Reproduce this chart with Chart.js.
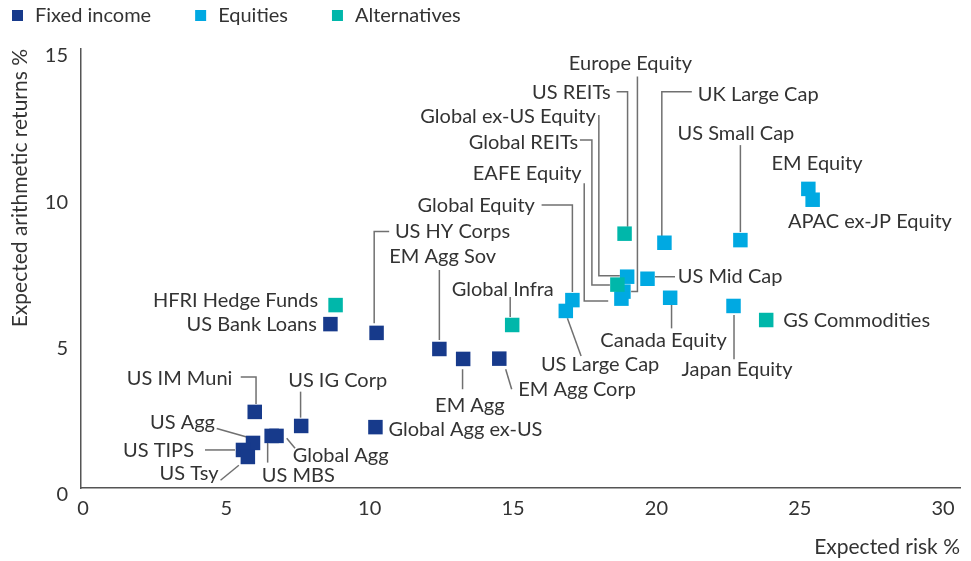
<!DOCTYPE html>
<html lang="en">
<head>
<meta charset="UTF-8">
<title>Expected risk and return</title>
<style>
  html, body { margin: 0; padding: 0; background: #ffffff; }
  #wrap { width: 971px; height: 561px; }
</style>
</head>
<body>
<div id="wrap"><canvas id="chart" width="971" height="561"></canvas></div>
<script src="https://cdn.jsdelivr.net/npm/chart.js"></script>
<script>
// ---- data ----
const fixedNames  = ['US Agg', 'US MBS', 'Global Agg', 'US TIPS', 'US Tsy', 'US IM Muni', 'US IG Corp',
                     'Global Agg ex-US', 'US Bank Loans', 'US HY Corps', 'EM Agg Sov', 'EM Agg', 'EM Agg Corp'];
const fixedRisk   = [6.00, 6.65, 6.82, 5.65, 5.82, 6.06, 7.68, 10.27, 8.70, 10.31, 12.50, 13.33, 14.59];
const fixedReturn = [1.54, 1.78, 1.78, 1.30, 1.06, 2.60, 2.12, 2.08, 5.60, 5.30, 4.75, 4.41, 4.42];

const equityNames  = ['Global Equity', 'US Large Cap', 'Europe Equity', 'EAFE Equity', 'Global ex-US Equity',
                      'US Mid Cap', 'Canada Equity', 'UK Large Cap', 'US Small Cap', 'Japan Equity',
                      'EM Equity', 'APAC ex-JP Equity'];
const equityRisk   = [17.14, 16.91, 18.92, 18.85, 19.05, 19.76, 20.55, 20.35, 23.00, 22.76, 25.37, 25.52];
const equityReturn = [6.42, 6.05, 6.71, 6.47, 7.22, 7.15, 6.50, 8.38, 8.47, 6.22, 10.22, 9.85];

const altNames  = ['HFRI Hedge Funds', 'Global Infra', 'Global REITs', 'US REITs', 'GS Commodities'];
const altRisk   = [8.88, 15.04, 18.71, 18.96, 23.90];
const altReturn = [6.25, 5.57, 6.95, 8.69, 5.74];

const xTicks = [0, 5, 10, 15, 20, 25, 30];
const yTicks = [0, 5, 10, 15];

// ---- label placement: pixel offsets from the marker centre ----
// a = text align, dx/dy = text anchor, leader = polyline
const labelLayout = {
  'HFRI Hedge Funds':   { a: 'right', dx: -17.5, dy: -5 },
  'US Bank Loans':      { a: 'right', dx: -13.5, dy: 0 },
  'US HY Corps':        { a: 'left', dx: 18.3, dy: -101.3, leader: [[12.6, -101.3], [-2.4, -101.3], [-2.4, -9.7]] },
  'EM Agg Sov':         { a: 'center', dx: 3.3, dy: -92.3, leader: [[0, -79], [0, -9]] },
  'Global Infra':       { a: 'center', dx: -9.5, dy: -35, leader: [[-2, -28], [-2, -8]] },
  'Global Equity':      { a: 'right', dx: -37.5, dy: -95, leader: [[-30.8, -95], [0, -95], [0, -8]] },
  'EAFE Equity':        { a: 'right', dx: -39.8, dy: -124.7, leader: [[-37.2, -115.4], [-37.2, 2.3], [-13.2, 2.3]] },
  'Global REITs':       { a: 'right', dx: -39.2, dy: -142, leader: [[-37.5, -144.7], [-25.5, -144.7], [-25.5, 0.3], [-7.5, 0.3]] },
  'Global ex-US Equity':{ a: 'right', dx: -31.3, dy: -160, leader: [[-28.3, -161.7], [-28.3, -1], [-7.3, -1]] },
  'US REITs':           { a: 'right', dx: -14, dy: -141, leader: [[-8, -142], [3, -142], [3, -7]] },
  'Europe Equity':      { a: 'center', dx: 7, dy: -227.7, leader: [[14, -215], [14, 0], [7.7, 0]] },
  'UK Large Cap':       { a: 'left', dx: 33.4, dy: -147.7, leader: [[27.4, -151], [-2.6, -151], [-2.6, -6]] },
  'US Small Cap':       { a: 'center', dx: -4.5, dy: -106.7, leader: [[0, -95], [0, -8]] },
  'EM Equity':          { a: 'center', dx: 8.7, dy: -25 },
  'APAC ex-JP Equity':  { a: 'center', dx: 57.3, dy: 21.9 },
  'US Mid Cap':         { a: 'left', dx: 30.2, dy: -2, leader: [[27.5, -2], [7.5, -2]] },
  'Canada Equity':      { a: 'center', dx: -6.6, dy: 43, leader: [[1.4, 7], [1.4, 30.6]] },
  'Japan Equity':       { a: 'center', dx: 3.5, dy: 63.3, leader: [[0.5, 9], [0.5, 53.3]] },
  'GS Commodities':     { a: 'left', dx: 17, dy: 0.7 },
  'US Large Cap':       { a: 'center', dx: 34.3, dy: 54, leader: [[1.6, 7.3], [15.3, 45]] },
  'EM Agg Corp':        { a: 'left', dx: 19, dy: 31.3, leader: [[6.4, 10.6], [12.4, 30.6]] },
  'EM Agg':             { a: 'center', dx: 6.7, dy: 47, leader: [[-0.6, 10.3], [-0.6, 30.3]] },
  'Global Agg ex-US':   { a: 'left', dx: 13, dy: 2.3 },
  'US IG Corp':         { a: 'center', dx: 36.5, dy: -45.3, leader: [[-0.6, -34.3], [-0.6, -8.3]] },
  'Global Agg':         { a: 'left', dx: 16.2, dy: 20, leader: [[10.2, 2.3], [18.5, 12.3]] },
  'US MBS':             { a: 'center', dx: 26.6, dy: 40, leader: [[-4, 6.7], [-4, 26.7]] },
  'US IM Muni':         { a: 'right', dx: -22.4, dy: -33, leader: [[-14, -35], [1.3, -35], [1.3, -8]] },
  'US Agg':             { a: 'right', dx: -38, dy: -20, leader: [[-36.3, -14.4], [-6.3, -6]] },
  'US TIPS':            { a: 'right', dx: -49, dy: 0.7, leader: [[-38, 0], [-8, 0]] },
  'US Tsy':             { a: 'right', dx: -29.3, dy: 16.6, leader: [[-27.3, 23.3], [-9, 8.3]] }
};

const FONT = 'Lato';
const FONT_SIZE = 20;
const TEXT = '#333333';
const LEADER = '#707070';
const NAVY = '#173a8b';
const BLUE = '#00a9e2';
const TEAL = '#00b7aa';

const toPoints = (xs, ys) => xs.map((x, i) => ({ x: x, y: ys[i] }));

const labelPlugin = {
  id: 'pointLabels',
  beforeDatasetsDraw(chart) {
    const ctx = chart.ctx;
    ctx.save();
    ctx.strokeStyle = LEADER;
    ctx.lineWidth = 1.5;
    chart.data.datasets.forEach((ds, di) => {
      chart.getDatasetMeta(di).data.forEach((pt, i) => {
        const lay = labelLayout[ds.names[i]];
        if (!lay || !lay.leader) return;
        ctx.beginPath();
        lay.leader.forEach(([dx, dy], k) => {
          if (k === 0) ctx.moveTo(pt.x + dx, pt.y + dy);
          else ctx.lineTo(pt.x + dx, pt.y + dy);
        });
        ctx.stroke();
      });
    });
    ctx.restore();
  },
  afterDatasetsDraw(chart) {
    const ctx = chart.ctx;
    ctx.save();
    ctx.font = FONT_SIZE + 'px "' + FONT + '"';
    ctx.fillStyle = TEXT;
    ctx.textBaseline = 'middle';
    chart.data.datasets.forEach((ds, di) => {
      chart.getDatasetMeta(di).data.forEach((pt, i) => {
        const lay = labelLayout[ds.names[i]];
        if (!lay) return;
        ctx.textAlign = lay.a;
        ctx.fillText(ds.names[i], pt.x + lay.dx, pt.y + lay.dy);
      });
    });
    ctx.restore();
  },
  afterDraw(chart) {
    // legend, drawn by hand so it can hug the left edge
    const ctx = chart.ctx;
    ctx.save();
    ctx.font = FONT_SIZE + 'px "' + FONT + '"';
    ctx.textBaseline = 'middle';
    ctx.textAlign = 'left';
    let lx = 12;
    chart.data.datasets.forEach(ds => {
      ctx.fillStyle = ds.backgroundColor;
      ctx.fillRect(lx, 10, 11, 11);
      ctx.fillStyle = TEXT;
      ctx.fillText(ds.label, lx + 23, 16);
      lx += 23 + ctx.measureText(ds.label).width + 44;
    });
    ctx.restore();
  }
};

Chart.defaults.font.family = FONT;
Chart.defaults.font.size = FONT_SIZE;
Chart.defaults.color = TEXT;

new Chart(document.getElementById('chart').getContext('2d'), {
  type: 'scatter',
  data: {
    datasets: [
      { label: 'Fixed income', names: fixedNames, data: toPoints(fixedRisk, fixedReturn), backgroundColor: NAVY, order: 2 },
      { label: 'Equities', names: equityNames, data: toPoints(equityRisk, equityReturn), backgroundColor: BLUE, order: 1 },
      { label: 'Alternatives', names: altNames, data: toPoints(altRisk, altReturn), backgroundColor: TEAL, order: 0 }
    ]
  },
  options: {
    responsive: false,
    animation: false,
    events: [],
    layout: { padding: { top: 49, right: 11, bottom: 1, left: 0 } },
    elements: { point: { pointStyle: 'rect', radius: 10.25, hoverRadius: 10.25, borderWidth: 0 } },
    plugins: { legend: { display: false }, tooltip: { enabled: false } },
    scales: {
      x: {
        type: 'linear',
        min: 0,
        max: 30.66,
        grid: { display: false, drawTicks: false },
        border: { display: true, color: '#555555', width: 1.5 },
        afterBuildTicks: axis => { axis.ticks = xTicks.map(v => ({ value: v })); },
        afterFit: scale => { scale.height = 72; },
        ticks: { padding: 9, labelOffset: 2, autoSkip: false, maxRotation: 0, color: TEXT },
        title: { display: true, text: 'Expected risk %', align: 'end', color: TEXT, font: { size: 21 }, padding: { top: 5, bottom: 0 } }
      },
      y: {
        type: 'linear',
        min: 0,
        max: 15,
        grid: { display: false, drawTicks: false },
        border: { display: true, color: '#555555', width: 1.5 },
        afterBuildTicks: axis => { axis.ticks = yTicks.map(v => ({ value: v })); },
        afterFit: scale => { scale.width = 81; },
        ticks: { padding: 13, labelOffset: 7, autoSkip: false, color: TEXT },
        title: { display: true, text: 'Expected arithmetic returns %', align: 'end', color: TEXT, font: { size: 21 }, padding: { top: 8, bottom: 0 } }
      }
    }
  },
  plugins: [labelPlugin]
});
</script>
</body>
</html>
